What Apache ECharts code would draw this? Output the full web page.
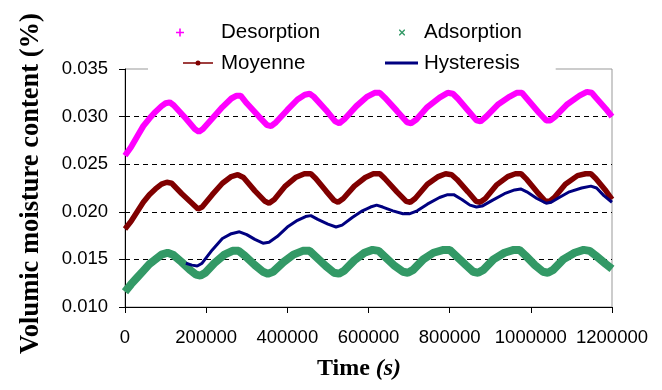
<!DOCTYPE html>
<html>
<head>
<meta charset="utf-8">
<script src="https://cdn.jsdelivr.net/npm/echarts@6/dist/echarts.min.js"></script>
<style>html,body{margin:0;padding:0;background:#fff;}#c{width:662px;height:390px;}</style>
</head>
<body>
<div id="c"></div>
<script>
// ---- data (time in s, volumic moisture content) ----
var xTicks = [0, 200000, 400000, 600000, 800000, 1000000, 1200000];
var yTicks = ['0.010', '0.015', '0.020', '0.025', '0.030', '0.035'];

var desorption = [
[0,0.0259],[15000,0.0268],[30000,0.0279],[45000,0.0290],[60000,0.0298],[75000,0.0305],[90000,0.0311],[100000,0.0314],[110000,0.0315],[120000,0.0312],[150000,0.0298],[172000,0.0287],[182000,0.0284],[192000,0.0287],[215000,0.0298],[240000,0.0310],[262000,0.0319],[275000,0.0322],[285000,0.0322],[300000,0.0314],[330000,0.0300],[350000,0.0291],[360000,0.0290],[372000,0.0294],[400000,0.0307],[425000,0.0318],[443000,0.0323],[455000,0.0324],[465000,0.0321],[495000,0.0307],[518000,0.0295],[528000,0.0293],[540000,0.0297],[570000,0.0311],[597000,0.0321],[615000,0.0325],[628000,0.0325],[640000,0.0320],[670000,0.0306],[695000,0.0294],[705000,0.0293],[718000,0.0297],[745000,0.0310],[775000,0.0320],[795000,0.0325],[808000,0.0324],[820000,0.0319],[850000,0.0304],[866000,0.0296],[876000,0.0295],[890000,0.0300],[920000,0.0313],[948000,0.0321],[965000,0.0325],[978000,0.0325],[990000,0.0319],[1020000,0.0304],[1038000,0.0296],[1048000,0.0296],[1060000,0.0300],[1090000,0.0313],[1120000,0.0322],[1138000,0.0326],[1150000,0.0325],[1160000,0.0320],[1185000,0.0308],[1200000,0.0300]
];

var adsorption = [
[0,0.0116],[15000,0.0124],[30000,0.0131],[45000,0.0138],[60000,0.0145],[75000,0.0150],[90000,0.0155],[105000,0.0157],[118000,0.0155],[140000,0.0147],[160000,0.0139],[175000,0.0134],[186000,0.0133],[198000,0.0136],[220000,0.0146],[245000,0.0155],[265000,0.0159],[280000,0.0159],[295000,0.0154],[320000,0.0144],[340000,0.0137],[352000,0.0135],[365000,0.0137],[390000,0.0147],[415000,0.0155],[438000,0.0159],[455000,0.0159],[470000,0.0153],[495000,0.0143],[515000,0.0136],[527000,0.0135],[540000,0.0138],[565000,0.0149],[590000,0.0157],[610000,0.0160],[625000,0.0159],[640000,0.0153],[665000,0.0143],[685000,0.0137],[697000,0.0136],[710000,0.0139],[735000,0.0150],[760000,0.0157],[785000,0.0160],[800000,0.0160],[815000,0.0154],[840000,0.0144],[858000,0.0137],[870000,0.0136],[883000,0.0139],[908000,0.0150],[935000,0.0157],[958000,0.0160],[972000,0.0160],[987000,0.0154],[1010000,0.0144],[1030000,0.0137],[1042000,0.0136],[1055000,0.0139],[1080000,0.0150],[1108000,0.0157],[1130000,0.0160],[1145000,0.0159],[1160000,0.0154],[1185000,0.0145],[1200000,0.0140]
];

var moyenne = [
[0,0.0182],[15000,0.0190],[30000,0.0200],[45000,0.0210],[60000,0.0218],[75000,0.0224],[90000,0.0229],[103000,0.0231],[115000,0.0230],[140000,0.0219],[165000,0.0209],[180000,0.0203],[190000,0.0205],[215000,0.0218],[240000,0.0230],[262000,0.0237],[278000,0.0239],[292000,0.0236],[320000,0.0222],[345000,0.0211],[355000,0.0209],[368000,0.0213],[395000,0.0227],[420000,0.0236],[442000,0.0240],[458000,0.0240],[470000,0.0235],[495000,0.0222],[515000,0.0212],[525000,0.0210],[538000,0.0214],[565000,0.0227],[592000,0.0236],[612000,0.0240],[628000,0.0240],[640000,0.0235],[670000,0.0221],[693000,0.0211],[703000,0.0210],[715000,0.0214],[745000,0.0229],[772000,0.0237],[790000,0.0240],[805000,0.0239],[818000,0.0234],[845000,0.0221],[865000,0.0211],[875000,0.0210],[888000,0.0214],[915000,0.0228],[943000,0.0237],[962000,0.0240],[976000,0.0240],[990000,0.0234],[1015000,0.0221],[1036000,0.0211],[1046000,0.0211],[1058000,0.0215],[1085000,0.0229],[1115000,0.0238],[1135000,0.0240],[1148000,0.0240],[1160000,0.0235],[1185000,0.0222],[1200000,0.0213]
];

var hysteresis = [
[150000,0.0146],[165000,0.0144],[178000,0.0143],[190000,0.0146],[215000,0.0160],[240000,0.0172],[262000,0.0177],[282000,0.0179],[300000,0.0176],[320000,0.0171],[340000,0.0167],[355000,0.0168],[375000,0.0174],[400000,0.0184],[425000,0.0191],[445000,0.0195],[458000,0.0196],[475000,0.0192],[500000,0.0187],[520000,0.0184],[535000,0.0186],[560000,0.0194],[585000,0.0201],[605000,0.0205],[620000,0.0207],[635000,0.0205],[660000,0.0201],[685000,0.0198],[702000,0.0198],[720000,0.0201],[745000,0.0208],[775000,0.0215],[795000,0.0218],[810000,0.0218],[830000,0.0213],[850000,0.0207],[866000,0.0205],[880000,0.0206],[905000,0.0212],[935000,0.0219],[960000,0.0223],[975000,0.0224],[990000,0.0221],[1015000,0.0214],[1038000,0.0209],[1050000,0.0210],[1070000,0.0215],[1095000,0.0221],[1125000,0.0225],[1148000,0.0227],[1162000,0.0225],[1180000,0.0217],[1200000,0.0210]
];

var seriesNames = ['Desorption', 'Adsorption', 'Moyenne', 'Hysteresis'];
var colors = { Desorption: '#FF00FF', Adsorption: '#339966', Moyenne: '#800000', Hysteresis: '#000080' };

// ---- legend icons ----
var plusIcon = 'path://M0,0 M44,20 M7.2,6 L8.8,6 L8.8,9.2 L12,9.2 L12,10.8 L8.8,10.8 L8.8,14 L7.2,14 L7.2,10.8 L4,10.8 L4,9.2 L7.2,9.2 Z';
var crossIcon = 'path://M0,0 M44,20 M24,7 L25,7 L27,9 L29,7 L30,7 L30,8 L28,10 L30,12 L30,13 L29,13 L27,11 L25,13 L24,13 L24,12 L26,10 L24,8 Z';
var moyIcon = 'path://M0,0 M40,20 M7,9.3 L37,9.3 L37,10.7 L7,10.7 Z M19.5,10 A2.5,2.5 0 1,1 24.5,10 A2.5,2.5 0 1,1 19.5,10 Z';
var hysIcon = 'path://M0,0 M40,20 M6,8.6 L39,8.6 L39,11.4 L6,11.4 Z';

var legendText = { fontFamily: 'Liberation Sans, Arial, sans-serif', fontSize: 20.5, color: '#000', lineHeight: 21 };

function mkLegend(name, icon, left, top, w, extra) {
  var l = {
    data: [{ name: name, icon: icon, itemStyle: { color: colors[name], borderWidth: 0 } }],
    left: left, top: top, itemWidth: w, itemHeight: 20, padding: 0,
    orient: 'horizontal', selectedMode: false, textStyle: legendText, z: 5
  };
  if (extra) { for (var k in extra) l[k] = extra[k]; }
  return l;
}

var chart = echarts.init(document.getElementById('c'), null, { renderer: 'canvas' });

var option = {
  animation: false,
  backgroundColor: '#fff',
  grid: {
    left: 125, right: 50, top: 69, bottom: 83,
    show: true, borderColor: '#999', borderWidth: 1, backgroundColor: 'transparent',
    containLabel: false
  },
  legend: [
    mkLegend('Desorption', plusIcon, 172, 22, 44),
    mkLegend('Adsorption', crossIcon, 375, 22, 44),
    mkLegend('Moyenne', moyIcon, 176, 52.5, 40),
    mkLegend('Hysteresis', hysIcon, 148, 52.5, 40, { padding: [0, 36, 0, 231], backgroundColor: '#fff', z: 3 })
  ],
  xAxis: {
    type: 'value', min: 0, max: 1200000, interval: 200000,
    name: '{a|Time }{b|(s)}', nameLocation: 'middle', nameGap: 50,
    nameTextStyle: {
      padding: [0, 19, 0, 0],
      rich: {
        a: { fontFamily: 'Liberation Serif, Times New Roman, serif', fontWeight: 'bold', fontSize: 24, color: '#000' },
        b: { fontFamily: 'Liberation Serif, Times New Roman, serif', fontWeight: 'bold', fontStyle: 'italic', fontSize: 24, color: '#000' }
      }
    },
    axisLine: { show: true, onZero: false, lineStyle: { color: '#000', width: 1 } },
    axisTick: { show: true, inside: false, length: 6, lineStyle: { color: '#000', width: 1 } },
    axisLabel: {
      margin: 21, color: '#000', fontSize: 18.5,
      fontFamily: 'Liberation Sans, Arial, sans-serif',
      formatter: function (v) { return String(v); }
    },
    splitLine: { show: false }
  },
  yAxis: {
    type: 'value', min: 0.010, max: 0.035, interval: 0.005,
    name: 'Volumic moisture content (%)', nameLocation: 'middle', nameGap: 80, nameRotate: 90,
    nameTextStyle: {
      fontFamily: 'Liberation Serif, Times New Roman, serif', fontWeight: 'bold', fontSize: 26.5, color: '#000',
      padding: [0, 0, 0, 9]
    },
    axisLine: { show: true, onZero: false, lineStyle: { color: '#000', width: 1 } },
    axisTick: { show: true, inside: false, length: 6, lineStyle: { color: '#000', width: 1 } },
    axisLabel: {
      margin: 17, color: '#000', fontSize: 18.5,
      fontFamily: 'Liberation Sans, Arial, sans-serif',
      formatter: function (v) {
        var s = v.toFixed(3);
        return yTicks.indexOf(s) >= 0 ? s : '';
      }
    },
    splitLine: {
      show: true, showMinLine: false, showMaxLine: false,
      lineStyle: { color: '#000', width: 1, type: [5, 4] }
    }
  },
  series: [
    { name: 'Desorption', type: 'line', data: desorption, showSymbol: false, symbol: 'none',
      lineStyle: { color: colors.Desorption, width: 6 }, itemStyle: { color: colors.Desorption }, z: 2 },
    { name: 'Adsorption', type: 'line', data: adsorption, showSymbol: false, symbol: 'none',
      lineStyle: { color: colors.Adsorption, width: 8 }, itemStyle: { color: colors.Adsorption }, z: 2 },
    { name: 'Moyenne', type: 'line', data: moyenne, showSymbol: false, symbol: 'none',
      lineStyle: { color: colors.Moyenne, width: 5.5 }, itemStyle: { color: colors.Moyenne }, z: 2 },
    { name: 'Hysteresis', type: 'line', data: hysteresis, showSymbol: false, symbol: 'none',
      lineStyle: { color: colors.Hysteresis, width: 3 }, itemStyle: { color: colors.Hysteresis }, z: 2 }
  ]
};
chart.setOption(option);
</script>
</body>
</html>
